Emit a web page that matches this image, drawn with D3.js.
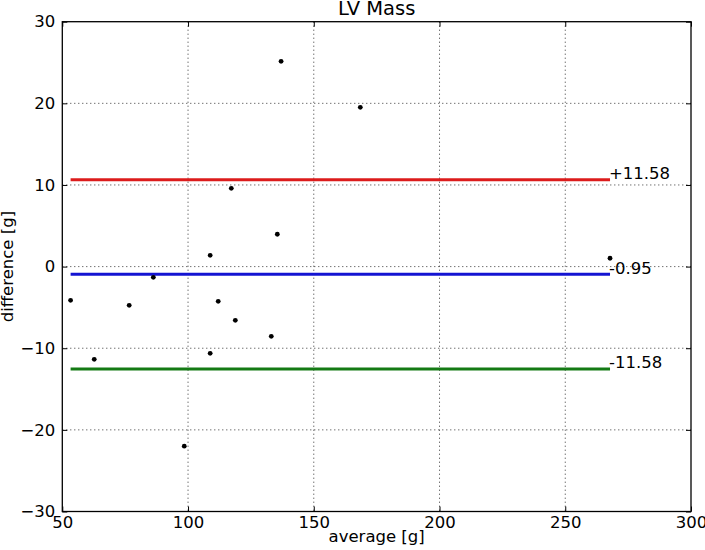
<!DOCTYPE html>
<html>
<head>
<meta charset="utf-8">
<script src="https://cdn.jsdelivr.net/npm/d3@7"></script>
<style>
  html, body { margin: 0; padding: 0; background: #fff; }
  svg { display: block; font-family: "DejaVu Sans", sans-serif; }
</style>
</head>
<body>
<svg id="chart" width="705" height="550"></svg>
<script>
// ---- data ----
const averages    = [53.3, 62.7, 76.6, 86.2, 98.5, 108.8, 112.0, 108.8, 118.8, 135.5, 133.1, 137.0, 168.5, 117.2, 267.8];
const differences = [-4.13, -11.36, -4.74, -1.31, -22.0, 1.38, -4.25, -10.62, -6.58, 3.96, -8.54, 25.15, 19.51, 9.59, 1.02];
const meanDiff = -0.95;
const sdDiff = 11.58;
const xTicks = [50, 100, 150, 200, 250, 300];
const yTicks = [-30, -20, -10, 0, 10, 20, 30];
const titleText = "LV Mass";
const xLabel = "average [g]";
const yLabel = "difference [g]";

// ---- layout ----
const W = 705, H = 550;
const m = { left: 62.3, top: 21.7, right: 14, bottom: 38.5 };
const iw = W - m.left - m.right, ih = H - m.top - m.bottom;

const svg = d3.select("#chart");
const g = svg.append("g").attr("transform", `translate(${m.left},${m.top})`);

const x = d3.scaleLinear().domain([50, 300]).range([0, iw]);
const y = d3.scaleLinear().domain([-30, 30]).range([ih, 0]);

// grid
g.append("g").selectAll("line").data(xTicks.slice(1, -1)).join("line")
  .attr("x1", d => x(d)).attr("x2", d => x(d)).attr("y1", 0).attr("y2", ih)
  .attr("stroke", "#000").attr("stroke-width", 0.8).attr("stroke-dasharray", "1,3");
g.append("g").selectAll("line").data(yTicks.slice(1, -1)).join("line")
  .attr("y1", d => y(d)).attr("y2", d => y(d)).attr("x1", 0).attr("x2", iw)
  .attr("stroke", "#000").attr("stroke-width", 0.8).attr("stroke-dasharray", "1,3");

// axes (ticks inward on all sides)
const tickLen = 5;
const axB = g.append("g").attr("transform", `translate(0,${ih})`)
  .call(d3.axisBottom(x).tickValues(xTicks).tickSizeInner(-tickLen).tickSizeOuter(0).tickPadding(5).tickFormat(d3.format("d")));
const axT = g.append("g")
  .call(d3.axisTop(x).tickValues(xTicks).tickSizeInner(-tickLen).tickSizeOuter(0).tickFormat(""));
const axL = g.append("g")
  .call(d3.axisLeft(y).tickValues(yTicks).tickSizeInner(-tickLen).tickSizeOuter(0).tickPadding(7)
    .tickFormat(d => d < 0 ? "\u2212" + Math.abs(d) : String(d)));
const axR = g.append("g").attr("transform", `translate(${iw},0)`)
  .call(d3.axisRight(y).tickValues(yTicks).tickSizeInner(-tickLen).tickSizeOuter(0).tickFormat(""));
[axB, axT, axL, axR].forEach(a => {
  a.select(".domain").remove();
  a.selectAll(".tick line").attr("stroke", "#000").attr("stroke-width", 1);
  a.selectAll("text").attr("font-size", 16.5).attr("fill", "#000").attr("font-family", "DejaVu Sans");
});

// frame
g.append("rect").attr("x", 0).attr("y", 0).attr("width", iw).attr("height", ih)
  .attr("fill", "none").attr("stroke", "#000").attr("stroke-width", 1.3);

// limit lines
const xmin = d3.min(averages), xmax = d3.max(averages);
const limits = [
  { v: meanDiff + sdDiff, color: "#dc1c1c", label: "+" + sdDiff.toFixed(2) },
  { v: meanDiff, color: "#1414d2", label: meanDiff.toFixed(2) },
  { v: meanDiff - sdDiff, color: "#147a14", label: "-" + sdDiff.toFixed(2) }
];
g.append("g").selectAll("line").data(limits).join("line")
  .attr("x1", x(xmin)).attr("x2", x(xmax))
  .attr("y1", d => y(d.v)).attr("y2", d => y(d.v))
  .attr("stroke", d => d.color).attr("stroke-width", 3);
g.append("g").selectAll("text").data(limits).join("text")
  .attr("x", x(xmax) - 1).attr("y", d => y(d.v) - 0.5)
  .attr("font-size", 16.5).attr("fill", "#000")
  .text(d => d.label);

// points
g.append("g").selectAll("circle").data(averages.map((a, i) => [a, differences[i]])).join("circle")
  .attr("cx", d => x(d[0])).attr("cy", d => y(d[1])).attr("r", 2.4).attr("fill", "#000");

// title and labels
svg.append("text").attr("x", m.left + iw / 2).attr("y", 15).attr("text-anchor", "middle")
  .attr("font-size", 19.5).attr("fill", "#000").text(titleText);
svg.append("text").attr("x", m.left + iw / 2).attr("y", 542).attr("text-anchor", "middle")
  .attr("font-size", 16.5).attr("fill", "#000").text(xLabel);
svg.append("text").attr("transform", `translate(13,${m.top + ih / 2}) rotate(-90)`)
  .attr("text-anchor", "middle").attr("font-size", 16.5).attr("fill", "#000").text(yLabel);
</script>
</body>
</html>
